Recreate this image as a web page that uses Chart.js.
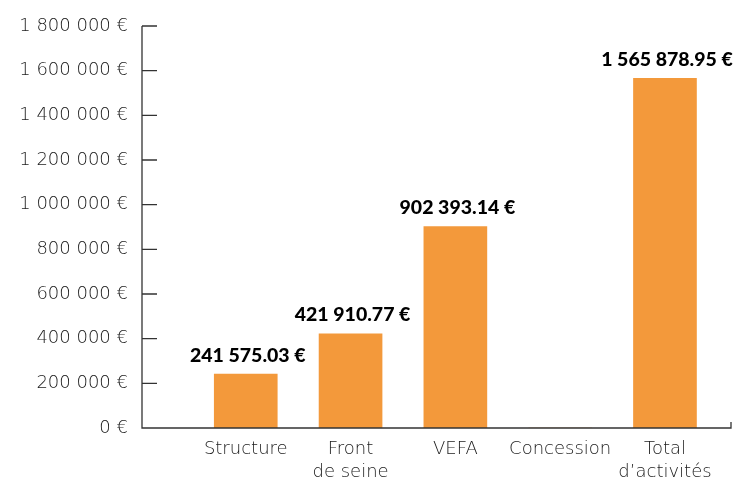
<!DOCTYPE html>
<html>
<head>
<meta charset="utf-8">
<script src="https://cdn.jsdelivr.net/npm/chart.js@4"></script>
<style>
    html, body { margin: 0; padding: 0; background: #fff; }
    #wrap { width: 737px; height: 477px; }
</style>
</head>
<body>
<div id="wrap"><canvas id="chart"></canvas></div>
<script>
const categories = ["Structure", ["Front", "de seine"], "VEFA", "Concession", ["Total", "d\u2019activit\u00e9s"]];
const amounts = [241575.03, 421910.77, 902393.14, 0, 1565878.95];
const amountLabels = ["241 575.03 \u20ac", "421 910.77 \u20ac", "902 393.14 \u20ac", "", "1 565 878.95 \u20ac"];
const yTicks = [0, 200000, 400000, 600000, 800000, 1000000, 1200000, 1400000, 1600000, 1800000];
const yTickLabels = ["0 \u20ac", "200 000 \u20ac", "400 000 \u20ac", "600 000 \u20ac", "800 000 \u20ac",
    "1 000 000 \u20ac", "1 200 000 \u20ac", "1 400 000 \u20ac", "1 600 000 \u20ac", "1 800 000 \u20ac"];

const axisColor = "#333333";
const labelColor = "#1a1a1a";

// axis lines + inner tick marks, drawn from the scales
const axisPlugin = {
    id: "axisLines",
    afterDraw(chart) {
        const { ctx, chartArea, scales } = chart;
        const y = scales.y;
        ctx.save();
        ctx.strokeStyle = axisColor;
        ctx.lineWidth = 1.3;
        ctx.beginPath();
        ctx.moveTo(chartArea.left, chartArea.top);
        ctx.lineTo(chartArea.left, chartArea.bottom);
        ctx.lineTo(chartArea.right, chartArea.bottom);
        ctx.lineTo(chartArea.right, chartArea.bottom - 6);
        yTicks.forEach(v => {
            const py = y.getPixelForValue(v);
            ctx.moveTo(chartArea.left, py);
            ctx.lineTo(chartArea.left + 15, py);
        });
        ctx.stroke();
        ctx.restore();
    }
};

const valueLabelPlugin = {
    id: "valueLabels",
    afterDatasetsDraw(chart) {
        const { ctx } = chart;
        const meta = chart.getDatasetMeta(0);
        ctx.save();
        ctx.font = "900 19.5px Lato";
        ctx.fillStyle = "#000";
        ctx.textAlign = "center";
        ctx.textBaseline = "bottom";
        meta.data.forEach((bar, i) => {
            if (!amountLabels[i]) return;
            ctx.fillText(amountLabels[i], bar.x + 2, bar.y - 9);
        });
        ctx.restore();
    }
};

new Chart(document.getElementById("chart"), {
    type: "bar",
    data: {
        datasets: [{
            data: amounts.map((v, i) => ({ x: i, y: v })),
            backgroundColor: "#f3993b",
            barThickness: 63,
        }],
    },
    options: {
        responsive: true,
        maintainAspectRatio: false,
        animation: false,
        layout: { padding: { top: 26, right: 6, left: 0, bottom: 0 } },
        plugins: {
            legend: { display: false },
            tooltip: { enabled: false },
        },
        scales: {
            x: {
                type: "linear",
                offset: false,
                min: -0.99,
                max: 4.63,
                grid: { display: false, drawTicks: false },
                border: { display: false },
                ticks: {
                    stepSize: 1,
                    includeBounds: false,
                    autoSkip: false,
                    maxRotation: 0,
                    padding: 10,
                    color: labelColor,
                    font: { family: "DejaVu Sans", size: 18, weight: "300", lineHeight: 1.28 },
                    callback: (v) => Number.isInteger(v) && categories[v] ? categories[v] : "",
                },
                afterFit: (scale) => { scale.height = 49; },
            },
            y: {
                min: 0,
                max: 1800000,
                grid: { display: false, drawTicks: false },
                border: { display: false },
                afterBuildTicks: (scale) => { scale.ticks = yTicks.map(v => ({ value: v })); },
                ticks: {
                    padding: 14,
                    color: labelColor,
                    font: { family: "DejaVu Sans", size: 18, weight: "300" },
                    callback: (v) => yTickLabels[yTicks.indexOf(v)],
                },
                afterFit: (scale) => { scale.width = 142; },
            },
        },
    },
    plugins: [axisPlugin, valueLabelPlugin],
});
</script>
</body>
</html>
